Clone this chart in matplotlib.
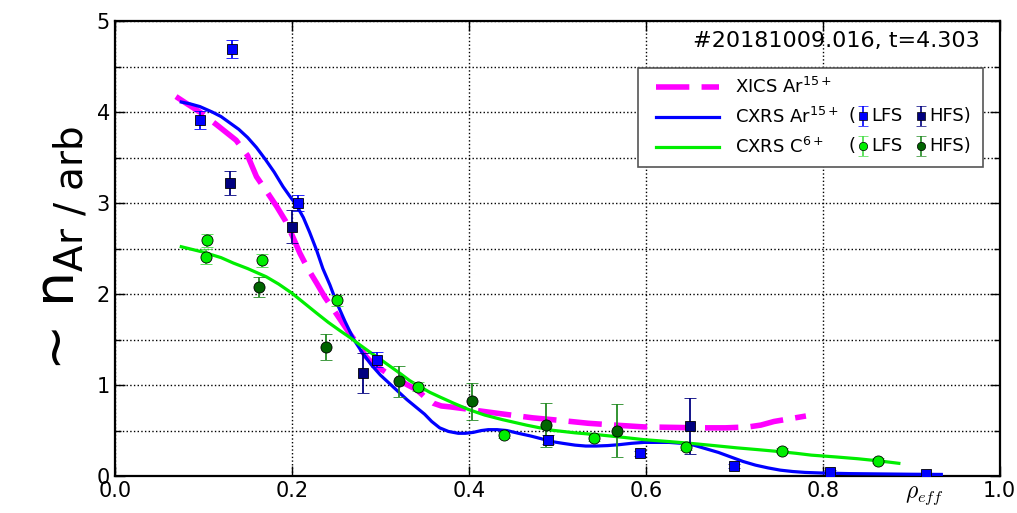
import numpy as np
import matplotlib
matplotlib.use('Agg')
import matplotlib.pyplot as plt
from matplotlib.lines import Line2D
from matplotlib.patches import Rectangle
from matplotlib.ticker import MultipleLocator

# fitted profiles
xics_x = [0.069, 0.080, 0.096, 0.115, 0.137, 0.150, 0.160, 0.172, 0.183, 0.193, 0.201, 0.209,
          0.218, 0.228, 0.237, 0.247, 0.256, 0.265, 0.275, 0.284, 0.293, 0.303, 0.312, 0.322,
          0.331, 0.341, 0.350, 0.360, 0.369, 0.379, 0.395, 0.409, 0.440, 0.472, 0.505, 0.535,
          0.565, 0.598, 0.630, 0.661, 0.690, 0.716, 0.730, 0.745, 0.763, 0.781]
xics_y = [4.17, 4.10, 4.00, 3.86, 3.69, 3.52, 3.29, 3.12, 2.96, 2.80, 2.63, 2.45,
          2.28, 2.12, 1.97, 1.83, 1.70, 1.57, 1.44, 1.31, 1.22, 1.16, 1.10, 1.05,
          1.00, 0.95, 0.87, 0.80, 0.77, 0.76, 0.74, 0.72, 0.68, 0.64, 0.61, 0.58,
          0.56, 0.54, 0.535, 0.53, 0.53, 0.54, 0.56, 0.60, 0.63, 0.66]

cxar_x = [0.075, 0.085, 0.096, 0.110, 0.120, 0.130, 0.140, 0.150, 0.160, 0.170, 0.180, 0.190,
          0.198, 0.205, 0.213, 0.220, 0.228, 0.235, 0.243, 0.250, 0.260, 0.270, 0.280, 0.290,
          0.300, 0.310, 0.320, 0.330, 0.340, 0.350, 0.358, 0.367, 0.377, 0.388, 0.396, 0.405,
          0.414, 0.422, 0.432, 0.443, 0.456, 0.470, 0.482, 0.493, 0.506, 0.520, 0.532, 0.544,
          0.557, 0.570, 0.584, 0.598, 0.612, 0.626, 0.640, 0.654, 0.668, 0.682, 0.696, 0.710,
          0.724, 0.738, 0.752, 0.766, 0.780, 0.800, 0.830, 0.860, 0.900, 0.934]
cxar_y = [4.11, 4.09, 4.06, 4.00, 3.95, 3.88, 3.81, 3.72, 3.61, 3.48, 3.34, 3.18,
          3.07, 2.98, 2.84, 2.68, 2.48, 2.28, 2.10, 1.92, 1.70, 1.50, 1.35, 1.22,
          1.11, 1.02, 0.93, 0.84, 0.76, 0.68, 0.60, 0.53, 0.49, 0.47, 0.47, 0.48,
          0.50, 0.51, 0.51, 0.50, 0.47, 0.44, 0.41, 0.38, 0.36, 0.34, 0.33, 0.33,
          0.335, 0.345, 0.36, 0.37, 0.37, 0.37, 0.36, 0.34, 0.30, 0.26, 0.21, 0.16,
          0.12, 0.09, 0.065, 0.05, 0.04, 0.033, 0.027, 0.024, 0.02, 0.018]

cxc_x = [0.075, 0.100, 0.120, 0.134, 0.150, 0.171, 0.185, 0.200, 0.214, 0.228, 0.241, 0.254,
         0.266, 0.277, 0.287, 0.296, 0.309, 0.322, 0.333, 0.345, 0.356, 0.367, 0.383, 0.400,
         0.418, 0.438, 0.465, 0.493, 0.520, 0.550, 0.575, 0.598, 0.625, 0.650, 0.677, 0.703,
         0.727, 0.750, 0.770, 0.787, 0.815, 0.840, 0.865, 0.886]
cxc_y = [2.52, 2.46, 2.40, 2.34, 2.28, 2.19, 2.11, 2.01, 1.90, 1.79, 1.69, 1.60,
         1.52, 1.44, 1.37, 1.31, 1.22, 1.13, 1.05, 0.98, 0.92, 0.87, 0.80, 0.73,
         0.67, 0.62, 0.56, 0.505, 0.475, 0.45, 0.425, 0.40, 0.38, 0.36, 0.335, 0.31,
         0.29, 0.27, 0.25, 0.23, 0.21, 0.19, 0.165, 0.14]

# CXRS Ar15+ measurements
ar_lfs_x = [0.096, 0.132, 0.207, 0.296, 0.490, 0.594, 0.700, 0.808, 0.917]
ar_lfs_y = [3.91, 4.69, 3.00, 1.28, 0.40, 0.25, 0.11, 0.05, 0.02]
ar_lfs_e = [0.10, 0.10, 0.09, 0.08, 0.05, 0.03, 0.02, 0.02, 0.01]

ar_hfs_x = [0.130, 0.200, 0.280, 0.650]
ar_hfs_y = [3.22, 2.74, 1.13, 0.55]
ar_hfs_e = [0.13, 0.18, 0.22, 0.31]

# CXRS C6+ measurements
c_lfs_x = [0.104, 0.103, 0.166, 0.251, 0.342, 0.440, 0.541, 0.646, 0.754, 0.863]
c_lfs_y = [2.59, 2.41, 2.37, 1.93, 0.98, 0.45, 0.42, 0.32, 0.28, 0.17]
c_lfs_e = [0.07, 0.08, 0.07, 0.06, 0.05, 0.03, 0.03, 0.03, 0.03, 0.03]

c_hfs_x = [0.163, 0.239, 0.321, 0.404, 0.487, 0.568]
c_hfs_y = [2.08, 1.42, 1.04, 0.82, 0.56, 0.50]
c_hfs_e = [0.11, 0.14, 0.17, 0.20, 0.24, 0.29]

shot_label = '#20181009.016, t=4.303'

c_xics = '#ff00ff'
c_ar = '#0000ff'
c_ar_h = '#000080'
c_c = '#00ee00'
c_c_err = '#44dd44'
c_c_h = '#006400'
c_c_h_err = '#228b22'

fig = plt.figure(figsize=(10.17, 5.13), dpi=100)
ax = fig.add_axes([0.113, 0.072, 0.870, 0.887])

ax.plot(xics_x, xics_y, '--', color=c_xics, lw=4, dashes=(6, 2.2), zorder=3)
ax.plot(cxar_x, cxar_y, '-', color=c_ar, lw=2.3, zorder=3)
ax.plot(cxc_x, cxc_y, '-', color=c_c, lw=2.3, zorder=3)

eb = dict(ls='none', capsize=4, elinewidth=1.3, capthick=1.3, markeredgecolor='k',
          markeredgewidth=0.6, zorder=4)
ax.errorbar(ar_lfs_x, ar_lfs_y, yerr=ar_lfs_e, fmt='s', color=c_ar, ms=7, **eb)
ax.errorbar(ar_hfs_x, ar_hfs_y, yerr=ar_hfs_e, fmt='s', color=c_ar_h, ms=7, **eb)
ax.errorbar(c_lfs_x, c_lfs_y, yerr=c_lfs_e, fmt='o', color=c_c_err, mfc=c_c, ms=8, **eb)
ax.errorbar(c_hfs_x, c_hfs_y, yerr=c_hfs_e, fmt='o', color=c_c_h_err, mfc=c_c_h, ms=8, **eb)

ax.set_xlim(0, 1.0)
ax.set_ylim(0, 5)
ax.xaxis.set_major_locator(MultipleLocator(0.2))
ax.yaxis.set_major_locator(MultipleLocator(1))
ax.yaxis.set_minor_locator(MultipleLocator(0.5))
ax.tick_params(which='both', direction='in', top=True, right=True, labelsize=15)
ax.tick_params(which='major', length=7, width=1)
ax.tick_params(which='minor', length=4, width=1)
ax.grid(which='both', color='k', ls=':', lw=1)
for s in ax.spines.values():
    s.set_linewidth(1.6)

ax.set_ylabel(r'~ n$_{\mathrm{Ar\ /\ arb}}$', fontsize=40, labelpad=6)
ax.set_xlabel(r'$\rho_{eff}$', fontsize=17, math_fontfamily='cm')
ax.xaxis.set_label_coords(0.915, -0.015)

ax.text(0.977, 0.956, shot_label, transform=ax.transAxes, ha='right', va='center', fontsize=16)

# legend box drawn separately so the entries can sit a bit further in
ax.add_patch(Rectangle((0.591, 0.679), 0.39, 0.218, transform=ax.transAxes, fc='white',
                       ec='#555555', lw=1.2, zorder=6, clip_on=False))
handles = [Line2D([], [], color=c_xics, lw=4, ls='--', dashes=(6, 2.2)),
           Line2D([], [], color=c_ar, lw=2.3),
           Line2D([], [], color=c_c, lw=2.3)]
labels = [r'XICS Ar$^{15+}$', r'CXRS Ar$^{15+}$', r'CXRS C$^{6+}$']
leg = ax.legend(handles, labels, loc='upper left', bbox_to_anchor=(0.601, 0.679, 0.38, 0.218),
                mode='expand', fontsize=13, handlelength=3.5, handletextpad=0.9,
                labelspacing=0.55, borderaxespad=0, frameon=False, borderpad=0.5)
leg.set_zorder(7)

# inline marker keys inside the legend rows
rows = [(0.791, c_ar, c_ar, c_ar_h, c_ar_h, 's'),
        (0.725, c_c_err, c_c, c_c_h_err, c_c_h, 'o')]
for yy, e1, f1, e2, f2, mk in rows:
    ax.text(0.829, yy, '(', transform=ax.transAxes, fontsize=13, va='center', zorder=8)
    ax.errorbar([0.845], [yy], yerr=[0.022], fmt=mk, color=e1, mfc=f1, ms=6,
                transform=ax.transAxes, clip_on=False, ls='none', capsize=3.5,
                elinewidth=1.2, capthick=1.2, mec='k', mew=0.5, zorder=8)
    ax.text(0.855, yy, 'LFS', transform=ax.transAxes, fontsize=13, va='center', zorder=8)
    ax.errorbar([0.911], [yy], yerr=[0.022], fmt=mk, color=e2, mfc=f2, ms=6,
                transform=ax.transAxes, clip_on=False, ls='none', capsize=3.5,
                elinewidth=1.2, capthick=1.2, mec='k', mew=0.5, zorder=8)
    ax.text(0.920, yy, 'HFS)', transform=ax.transAxes, fontsize=13, va='center', zorder=8)

fig.savefig('out.png', dpi=100)
